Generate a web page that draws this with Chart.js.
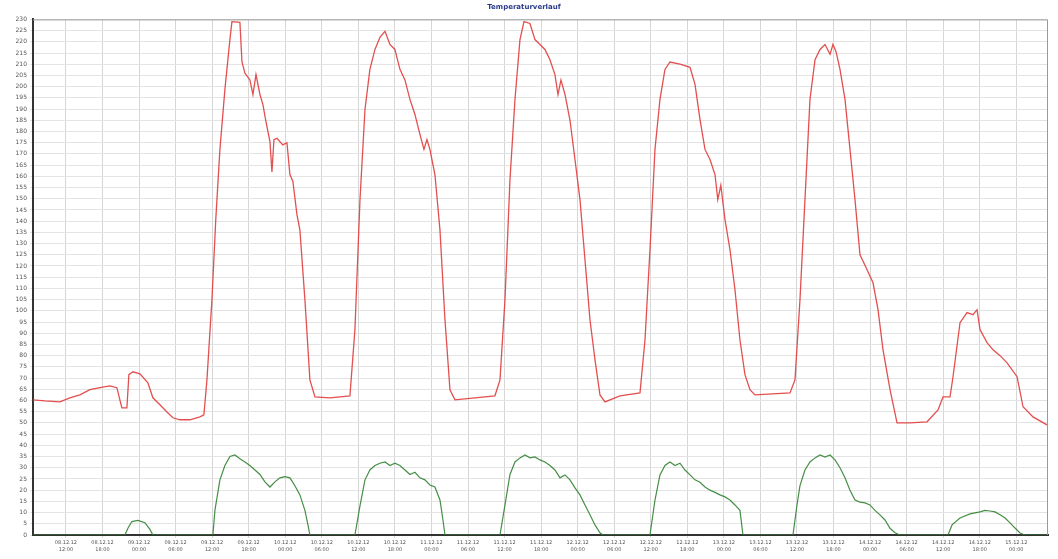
<!DOCTYPE html>
<html>
<head>
<meta charset="utf-8">
<script src="https://cdn.jsdelivr.net/npm/chart.js@4"></script>
<style>
  html, body { margin: 0; padding: 0; background: #fff; }
  #wrap { width: 1058px; height: 559px; }
</style>
</head>
<body>
<div id="wrap"><canvas id="grafico"></canvas></div>
<script>
// Zeitachse in Stunden ab erster Gitterlinie
const tickHours = [0, 6, 12, 18, 24, 30, 36, 42, 48, 54, 60, 66, 72, 78, 84, 90, 96, 102, 108, 114, 120, 126, 132, 138, 144, 150, 156];
const tickDates = ['08.12.12', '08.12.12', '09.12.12', '09.12.12', '09.12.12', '09.12.12',
    '10.12.12', '10.12.12', '10.12.12', '10.12.12', '11.12.12', '11.12.12', '11.12.12', '11.12.12',
    '12.12.12', '12.12.12', '12.12.12', '12.12.12', '13.12.12', '13.12.12', '13.12.12', '13.12.12',
    '14.12.12', '14.12.12', '14.12.12', '14.12.12', '15.12.12'];
const tickTimes = ['12:00', '18:00', '00:00', '06:00', '12:00', '18:00',
    '00:00', '06:00', '12:00', '18:00', '00:00', '06:00', '12:00', '18:00',
    '00:00', '06:00', '12:00', '18:00', '00:00', '06:00', '12:00', '18:00',
    '00:00', '06:00', '12:00', '18:00', '00:00'];

// rote Kurve
const redHours = [-5.4, -3.45, -0.98, 0.66, 2.3, 3.94, 5.58, 7.22, 8.37, 8.86, 9.19, 10.01, 10.34, 11.0, 12.15, 13.46, 14.28, 15.43, 16.58, 17.56, 18.71, 20.36, 22.0, 22.65,
    23.15, 23.97, 24.6, 25.28, 26.1, 26.92, 27.25, 28.56, 28.9, 29.39, 30.2, 30.7, 31.2, 31.85, 32.34, 32.8, 33.49, 33.82, 34.15, 34.64, 35.6, 36.28, 36.77, 37.26, 37.92, 38.41, 39.23, 40.05, 40.88, 43.34, 46.62,
    47.44, 48.27, 49.09, 49.9, 50.73, 51.55, 52.37, 53.19, 54.0, 54.83, 55.65, 56.47, 57.29, 58.11, 58.77, 59.26, 59.75, 60.57, 61.4, 62.22, 63.04, 63.86, 67.14, 70.42,
    71.25, 72.07, 72.89, 73.71, 74.53, 75.19, 76.17, 76.99, 77.81, 78.63, 79.45, 80.27, 80.77, 81.26, 81.92, 82.74, 83.56, 84.38, 85.2, 86.02, 86.84, 87.66, 88.48, 90.94, 94.23,
    95.05, 95.87, 96.69, 97.51, 98.33, 99.15, 100.79, 102.44, 103.26, 104.08, 104.9, 105.72, 106.54, 107.0, 107.5, 108.18, 109.0, 109.82, 110.64, 111.46, 112.28, 113.1, 118.85,
    119.67, 120.49, 121.31, 122.13, 122.96, 123.78, 124.6, 125.42, 125.9, 126.4, 127.06, 127.88, 128.7, 129.52, 130.34, 131.33, 132.48, 133.3, 134.12, 135.27, 136.42, 138.55, 141.35, 143.15, 143.97, 145.12,
    145.61, 146.76, 147.91, 148.89, 149.55, 150.04, 151.19, 152.18, 153.33, 154.48, 156.12, 157.1, 158.74, 161.04];
const redValues = [60.3, 59.8, 59.4, 61.2, 62.5, 64.8, 65.7, 66.5, 65.7, 60.3, 56.7, 56.7, 71.5, 72.8, 71.9, 67.9, 61.2, 58.1, 54.9, 52.3, 51.4, 51.4, 52.7, 53.6,
    69.2, 105, 140.7, 172, 198.8, 221, 229, 228.7, 211, 206, 203, 196.5, 205.4, 196.5, 192, 185, 175.5, 162, 176.4, 177, 174, 175, 160.8, 157.7, 143, 136, 105, 69.2, 61.6, 61.2, 62.1,
    91.6, 149.6, 189.8, 207.7, 216.6, 222, 224.7, 218.8, 216.6, 207.7, 203, 194.3, 187.6, 178.7, 172, 176.4, 172, 160.8, 136, 96, 64.8, 60.3, 61.2, 62.1,
    69.2, 105, 158.6, 194.3, 221, 229, 228.2, 221, 218.8, 216.6, 212, 205.4, 196.5, 203, 196.5, 185, 167.5, 149.6, 122.8, 96, 78.2, 62.5, 59.4, 62.1, 63.4,
    87, 127.3, 172, 194.3, 207.7, 211, 210, 208.6, 201, 185.3, 172, 167.5, 160.8, 149.6, 156, 140.7, 127.3, 109.4, 87, 71.5, 64.8, 62.5, 63.4,
    69.2, 105, 149.6, 194.3, 212, 216.6, 218.8, 214.4, 218.8, 215.7, 207.7, 194.3, 172, 149.6, 125, 119.3, 112.5, 100.5, 82.6, 64.8, 50, 50, 50.5, 55.8, 61.6, 61.6,
    70.6, 94.7, 99.2, 98.3, 100.5, 91.6, 85.8, 82.6, 80, 76.8, 70.6, 57.2, 52.7, 49.1];

// grüne Kurve
const greenHours = [-5.4, 9.69, 10.18, 10.83, 11.82, 12.97, 13.79, 14.28,
    24.13, 24.46, 25.28, 26.1, 26.92, 27.74, 28.56, 29.38, 30.2, 31.03, 31.85, 32.67, 33.49, 34.31, 35.13, 35.95, 36.77, 37.59, 38.41, 39.23, 39.73, 40.05,
    47.44, 48.27, 49.09, 49.9, 50.73, 51.55, 52.37, 53.19, 54.0, 54.83, 55.65, 56.47, 57.29, 58.11, 58.93, 59.75, 60.57, 61.4, 61.89, 62.22,
    71.25, 72.07, 72.89, 73.71, 74.53, 75.35, 76.17, 76.99, 77.81, 78.63, 79.45, 80.27, 81.1, 81.92, 82.74, 83.56, 84.38, 85.2, 86.02, 86.84, 87.66, 88.15,
    95.87, 96.69, 97.51, 98.33, 99.15, 99.97, 100.79, 101.61, 102.44, 103.26, 104.08, 104.9, 105.72, 106.54, 107.36, 108.18, 109.0, 109.82, 110.64, 111.13,
    119.34, 120.0, 120.49, 121.31, 122.13, 122.96, 123.78, 124.6, 125.42, 126.24, 127.06, 127.88, 128.7, 129.52, 130.34, 131.16, 131.98, 132.8, 133.62, 134.44, 135.27, 136.09, 136.91,
    144.79, 145.45, 146.76, 148.4, 150.04, 150.86, 151.68, 152.5, 153.33, 154.15, 154.97, 155.79, 156.61, 157.43, 161.04];
const greenValues = [0, 0, 3, 6, 6.5, 5.5, 2.5, 0,
    0, 11, 24.6, 31, 35, 35.7, 34, 32.6, 31, 29, 27, 23.7, 21.4, 23.7, 25.5, 26, 25.5, 22, 17.9, 11, 4.5, 0,
    0, 13, 24.6, 29, 31, 32, 32.6, 31, 32, 31, 29, 27, 28, 25.5, 24.6, 22.3, 21.4, 15.6, 6.7, 0,
    0, 13.4, 27, 32.6, 34.4, 35.7, 34.4, 34.8, 33.5, 32.6, 31, 29, 25.5, 26.8, 24.6, 21, 17.9, 13.4, 9, 4.5, 1, 0,
    0, 15.6, 26.8, 31, 32.6, 31, 32, 29, 26.8, 24.6, 23.5, 21.4, 20, 19, 17.9, 17, 15.6, 13.4, 11, 0,
    0, 13.4, 22, 29, 32.6, 34.4, 35.7, 34.8, 35.7, 33.5, 30, 25.5, 20, 15.6, 14.7, 14.3, 13.4, 11, 9, 6.7, 3, 1, 0,
    0, 4.5, 7.6, 9.4, 10.3, 11, 10.7, 10.3, 9, 7.6, 5.4, 3.1, 0.9, 0, 0];

const tituloGrafico = 'Temperaturverlauf';

const puntos = (xs, ys) => xs.map((h, i) => ({ x: h, y: ys[i] }));

// Rahmen oben/rechts
const rahmen = {
    id: 'rahmen',
    afterDraw(chart) {
        const { ctx, chartArea: a } = chart;
        ctx.save();
        ctx.strokeStyle = '#9a9a9a';
        ctx.lineWidth = 1;
        ctx.beginPath();
        ctx.moveTo(a.left, a.top + 0.5);
        ctx.lineTo(a.right - 0.5, a.top + 0.5);
        ctx.lineTo(a.right - 0.5, a.bottom);
        ctx.stroke();
        ctx.restore();
    }
};

const ctx = document.getElementById('grafico').getContext('2d');
new Chart(ctx, {
    type: 'line',
    data: {
        datasets: [{
            label: 'rot',
            data: puntos(redHours, redValues),
            borderColor: 'rgba(225, 60, 60, 0.9)',
            borderWidth: 1.3,
            pointRadius: 0,
            tension: 0
        }, {
            label: 'grün',
            data: puntos(greenHours, greenValues),
            borderColor: 'rgba(50, 130, 50, 0.9)',
            borderWidth: 1.2,
            pointRadius: 0,
            tension: 0
        }]
    },
    options: {
        responsive: true,
        maintainAspectRatio: false,
        animation: false,
        layout: { padding: { left: 0, right: 10, top: 0, bottom: 0 } },
        plugins: {
            legend: { display: false },
            tooltip: { enabled: false },
            title: {
                display: true,
                text: tituloGrafico,
                color: '#2a3a8a',
                font: { family: 'DejaVu Sans', size: 7 },
                padding: { top: 3, bottom: 8 }
            }
        },
        scales: {
            x: {
                type: 'linear',
                min: -5.4,
                max: 161.2,
                afterBuildTicks: (scale) => {
                    scale.ticks = tickHours.map(v => ({ value: v }));
                },
                afterFit: (scale) => { scale.height = 24; },
                grid: { color: '#d6d6d6', lineWidth: 1, tickLength: 3 },
                border: { color: '#333', width: 2 },
                ticks: {
                    autoSkip: false,
                    maxRotation: 0,
                    padding: 2,
                    color: '#555',
                    font: { family: 'DejaVu Sans', size: 5, lineHeight: 1.25 },
                    callback: (value, index) => [tickDates[index], tickTimes[index]]
                }
            },
            y: {
                min: 0,
                max: 230,
                afterFit: (scale) => { scale.width = 33; },
                grid: { color: '#e3e3e3', lineWidth: 1, tickLength: 3 },
                border: { color: '#333', width: 2 },
                ticks: {
                    stepSize: 5,
                    autoSkip: false,
                    padding: 3,
                    color: '#555',
                    font: { family: 'DejaVu Sans', size: 6 }
                }
            }
        }
    },
    plugins: [rahmen]
});
</script>
</body>
</html>
